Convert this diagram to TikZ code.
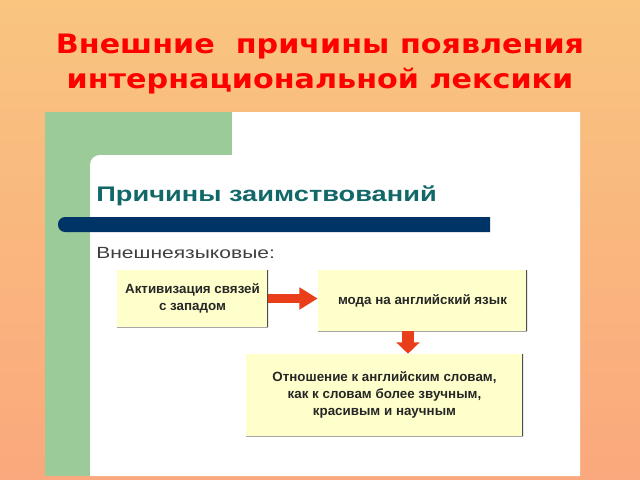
\documentclass[tikz,border=0pt]{standalone}
\usepackage{fontspec}
\setmainfont{Liberation Sans}
\newfontfamily\titlefont{DejaVu Sans}
\usetikzlibrary{arrows.meta}

\definecolor{bgtop}{RGB}{249,197,127}
\definecolor{bgbot}{RGB}{250,168,125}
\definecolor{leafgreen}{RGB}{156,203,154}
\definecolor{headteal}{RGB}{18,104,104}
\definecolor{barnavy}{RGB}{0,51,102}
\definecolor{boxyellow}{RGB}{255,255,204}
\definecolor{arrowred}{RGB}{234,62,26}

\tikzset{
  headline/.style={anchor=base, text=red, xscale=1.13, font=\titlefont\bfseries\fontsize{19}{22}\selectfont},
  reason/.style={fill=boxyellow, inner sep=0pt, align=center, text=black!85,
    font=\bfseries\fontsize{9.5}{12}\selectfont,
    path picture={\draw[gray!60!black, line width=0.8pt]
      (path picture bounding box.north east) -- (path picture bounding box.south east);
      \draw[gray!70, line width=0.6pt]
      (path picture bounding box.south west) -- (path picture bounding box.south east);}},
  pusharrow/.style={draw=arrowred, line width=7pt, -{Triangle[length=13pt,width=15pt]}}
}

\begin{document}
\begin{tikzpicture}[x=0.025cm, y=-0.025cm]
    \useasboundingbox (0,0) rectangle (640,480);
    \shade[top color=bgtop, bottom color=bgbot] (0,0) rectangle (640,480);

    % title
    \node[headline] (title1) at (320,53) {Внешние~ причины появления};
    \node[headline] (title2) at (320,88) {интернациональной лексики};

    % slide picture
    \fill[leafgreen] (45,112) rectangle (580,476);
    \fill[white] (90,476) [rounded corners=7pt]-- (90,155) [sharp corners]-- (232,155) -- (232,112) -- (580,112) -- (580,476) -- cycle;
    \fill[barnavy] (490,217) [rounded corners=5pt]-- (58,217) -- (58,232) [sharp corners]-- (490,232) -- cycle;

    \node[anchor=base west, inner sep=0pt, xscale=1.29, text=headteal, font=\bfseries\fontsize{15}{18}\selectfont] (heading) at (96,201) {Причины заимствований};
    \node[anchor=base west, inner sep=0pt, xscale=1.3, text=black!75, font=\fontsize{11.5}{14}\selectfont] (outer) at (96,258) {Внешнеязыковые:};

    % boxes
    \node[reason, minimum width=3.775cm, minimum height=1.425cm] (activ) at (192.5,298.5) {Активизация связей\\с западом};
    \node[reason, minimum width=5.225cm, minimum height=1.525cm] (fashion) at (422.5,300.5) {мода на английский язык};
    \node[reason, minimum width=6.925cm, minimum height=2.05cm] (attitude) at (384.5,395) {Отношение к английским словам,\\как к словам более звучным,\\красивым и научным};

    \draw[pusharrow] (activ.east) -- (activ.east -| fashion.west);
    \coordinate (drop) at (408,331);
    \draw[pusharrow, line width=8.5pt, -{Triangle[length=8pt,width=16pt]}] (drop) -- (drop |- attitude.north);
\end{tikzpicture}
\end{document}
